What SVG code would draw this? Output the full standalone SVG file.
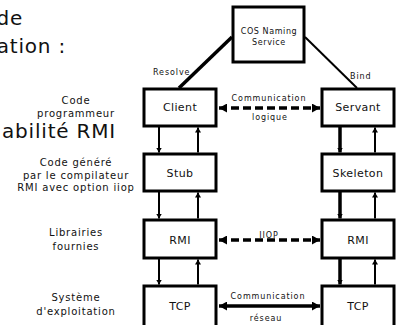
<svg xmlns="http://www.w3.org/2000/svg" width="399" height="325" viewBox="0 0 399 325">
<style>
.box{fill:#fff;stroke:#000;stroke-width:3}
.bl{font-family:"DejaVu Sans",sans-serif;font-size:11px;text-anchor:middle;fill:#111;letter-spacing:0.4px}
.side{font-family:"DejaVu Sans",sans-serif;font-size:10px;text-anchor:middle;fill:#111;letter-spacing:0.8px}
.sm{font-family:"DejaVu Sans",sans-serif;font-size:8px;fill:#111;letter-spacing:0.9px}
.big{font-family:"DejaVu Sans",sans-serif;font-size:20px;text-anchor:end;fill:#111;letter-spacing:0.8px}
.v{stroke:#000;fill:none}
.h{stroke:#000;stroke-width:3.5;fill:none}
.d{stroke-dasharray:8 4}
</style>
<defs>
<marker id="va" markerUnits="userSpaceOnUse" markerWidth="6" markerHeight="6" refX="5" refY="3" orient="auto"><path d="M0,0 L5,3 L0,6 z" fill="#000"/></marker>
<marker id="ha" markerUnits="userSpaceOnUse" markerWidth="9" markerHeight="9" refX="8" refY="4.5" orient="auto-start-reverse"><path d="M0,0 L8,4.5 L0,9 z" fill="#000"/></marker>
</defs>
<text class="big" x="23" y="25">de</text>
<text class="big" x="66" y="53">ation :</text>
<text class="big" x="116" y="138">abilité RMI</text>
<g id="side-labels">
<text class="side" x="76" y="104">Code</text>
<text class="side" x="76" y="117">programmeur</text>
<text class="side" x="76" y="166">Code généré</text>
<text class="side" x="76" y="179">par le compilateur</text>
<text class="side" x="76" y="191">RMI avec option iiop</text>
<text class="side" x="76" y="236">Librairies</text>
<text class="side" x="76" y="250">fournies</text>
<text class="side" x="76" y="301">Système</text>
<text class="side" x="76" y="315">d'exploitation</text>
</g>
<g id="connectors">
<line class="v" x1="179" y1="88" x2="232" y2="37" stroke-width="3.5"/>
<line class="v" x1="305" y1="37" x2="357" y2="88" stroke-width="2"/>
<line class="v" x1="159" y1="127" x2="159" y2="152.5" stroke-width="2" marker-end="url(#va)"/>
<line class="v" x1="198" y1="152.5" x2="198" y2="127.5" stroke-width="2" marker-end="url(#va)"/>
<line class="v" x1="159" y1="192" x2="159" y2="218.5" stroke-width="2" marker-end="url(#va)"/>
<line class="v" x1="198" y1="218.5" x2="198" y2="192.5" stroke-width="2" marker-end="url(#va)"/>
<line class="v" x1="159" y1="259" x2="159" y2="284.5" stroke-width="2" marker-end="url(#va)"/>
<line class="v" x1="198" y1="284.5" x2="198" y2="259.5" stroke-width="2" marker-end="url(#va)"/>
<line class="v" x1="340" y1="127" x2="340" y2="152.5" stroke-width="3.5" marker-end="url(#va)"/>
<line class="v" x1="375" y1="152.5" x2="375" y2="127.5" stroke-width="2" marker-end="url(#va)"/>
<line class="v" x1="340" y1="192" x2="340" y2="218.5" stroke-width="3.5" marker-end="url(#va)"/>
<line class="v" x1="375" y1="218.5" x2="375" y2="192.5" stroke-width="2" marker-end="url(#va)"/>
<line class="v" x1="340" y1="259" x2="340" y2="284.5" stroke-width="3.5" marker-end="url(#va)"/>
<line class="v" x1="375" y1="284.5" x2="375" y2="259.5" stroke-width="2" marker-end="url(#va)"/>
<line class="h d" x1="219" y1="108" x2="320" y2="108" marker-start="url(#ha)" marker-end="url(#ha)"/>
<line class="h d" x1="219" y1="240" x2="320" y2="240" marker-start="url(#ha)" marker-end="url(#ha)"/>
<line class="h" x1="219" y1="306" x2="320" y2="306" marker-start="url(#ha)" marker-end="url(#ha)"/>
<text class="sm" x="153" y="75">Resolve</text>
<text class="sm" x="350" y="79">Bind</text>
<text class="sm" x="269" y="101" text-anchor="middle">Communication</text>
<text class="sm" x="270" y="120" text-anchor="middle">logique</text>
<text class="sm" x="269" y="238" text-anchor="middle">IIOP</text>
<text class="sm" x="268" y="299" text-anchor="middle">Communication</text>
<text class="sm" x="266" y="321" text-anchor="middle">réseau</text>
</g>
<g id="cos"><rect class="box" x="233" y="7" width="71" height="55"/><text class="sm" x="269" y="34" text-anchor="middle" style="letter-spacing:0.6px">COS Naming</text><text class="sm" x="269" y="45" text-anchor="middle" style="letter-spacing:0.6px">Service</text></g>
<g id="client"><rect class="box" x="144" y="89" width="72" height="37"/><text class="bl" x="180" y="111">Client</text></g>
<g id="servant"><rect class="box" x="322" y="89" width="72" height="37"/><text class="bl" x="358" y="111">Servant</text></g>
<g id="stub"><rect class="box" x="144" y="154" width="72" height="37"/><text class="bl" x="180" y="177">Stub</text></g>
<g id="skeleton"><rect class="box" x="322" y="154" width="72" height="37"/><text class="bl" x="358" y="177">Skeleton</text></g>
<g id="rmi-left"><rect class="box" x="144" y="220" width="72" height="38"/><text class="bl" x="180" y="244">RMI</text></g>
<g id="rmi-right"><rect class="box" x="322" y="220" width="72" height="38"/><text class="bl" x="358" y="244">RMI</text></g>
<g id="tcp-left"><rect class="box" x="144" y="286" width="72" height="45"/><text class="bl" x="180" y="310">TCP</text></g>
<g id="tcp-right"><rect class="box" x="322" y="286" width="72" height="45"/><text class="bl" x="358" y="310">TCP</text></g>
</svg>
